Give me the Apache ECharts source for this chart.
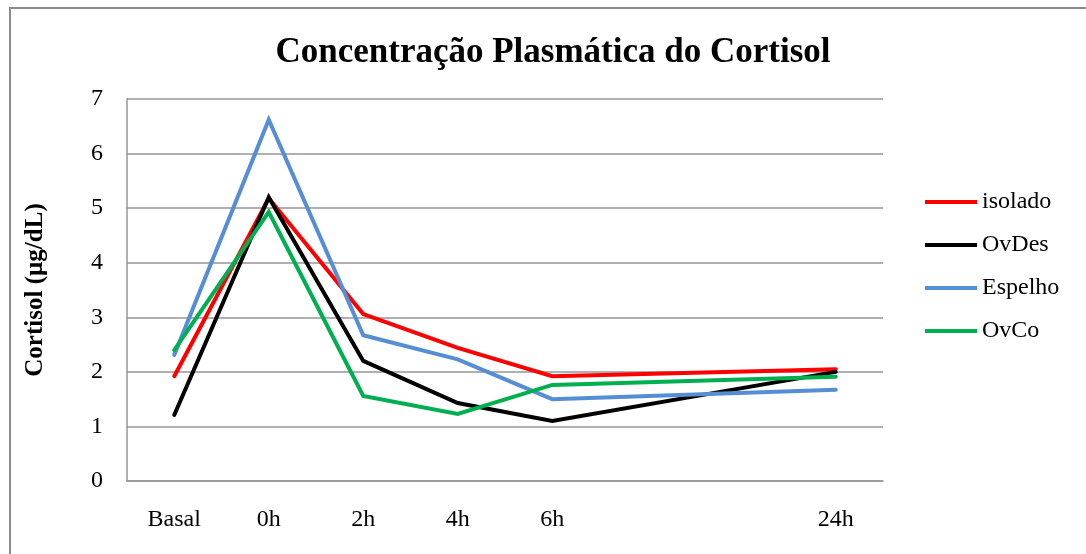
<!DOCTYPE html>
<html><head><meta charset="utf-8">
<script src="https://cdn.jsdelivr.net/npm/echarts@6/dist/echarts.min.js"></script>
<style>html,body{margin:0;padding:0;background:#fff}#c{width:1086px;height:554px}</style>
</head><body><div id="c"></div>
<script>
var categories = ['Basal','0h','2h','4h','6h','','','24h'];
var isolado = [1.92, 5.18, 3.06, 2.44, 1.92, null, null, 2.05];
var ovDes   = [1.21, 5.20, 2.20, 1.43, 1.10, null, null, 2.00];
var espelho = [2.31, 6.62, 2.67, 2.23, 1.50, null, null, 1.67];
var ovCo    = [2.40, 4.93, 1.56, 1.23, 1.76, null, null, 1.91];
var yTicks = [0,1,2,3,4,5,6,7];

var font = 'Liberation Serif';
function ser(name, data, color){
  return {name:name, type:'line', data:data, connectNulls:true, symbol:'none',
    lineStyle:{color:color, width:4, cap:'round', join:'miter'}, itemStyle:{color:color}};
}
var chart = echarts.init(document.getElementById('c'));
chart.setOption({
  animation:false,
  backgroundColor:'#fff',
  title:{text:'Concentração Plasmática do Cortisol', left:548, top:30, textAlign:'center',
    textStyle:{fontFamily:font, fontSize:35, fontWeight:'bold', color:'#000'}},
  graphic:[{type:'rect', shape:{x:10, y:8, width:1100, height:600},
    style:{fill:null, stroke:'#8c8c8c', lineWidth:2}}],
  legend:{orient:'vertical', left:920, top:185, itemGap:19, itemWidth:52, itemHeight:4,
    icon:'rect',
    textStyle:{fontFamily:font, fontSize:24, color:'#000'},
    data:['isolado','OvDes','Espelho','OvCo']},
  grid:{left:127, right:203, top:99, bottom:73},
  xAxis:{type:'category', data:categories, boundaryGap:true,
    axisLine:{lineStyle:{color:'#969696', width:1.5}},
    axisTick:{show:false},
    axisLabel:{fontFamily:font, fontSize:24, color:'#000', margin:27, interval:0}},
  yAxis:{type:'value', min:0, max:7, interval:1,
    name:'Cortisol (µg/dL)', nameLocation:'middle', nameGap:79,
    nameTextStyle:{fontFamily:font, fontSize:25, fontWeight:'bold', color:'#000'},
    axisLine:{show:true, lineStyle:{color:'#969696', width:1.5}},
    axisTick:{show:false},
    splitLine:{lineStyle:{color:'#969696', width:1.5}},
    axisLabel:{fontFamily:font, fontSize:24, color:'#000', margin:24,
      formatter:function(v){return yTicks.indexOf(v)>=0 ? String(v) : '';}}},
  series:[ser('isolado', isolado, '#ff0000'), ser('OvDes', ovDes, '#000000'),
          ser('Espelho', espelho, '#558ed5'), ser('OvCo', ovCo, '#00b050')]
});
</script></body></html>
